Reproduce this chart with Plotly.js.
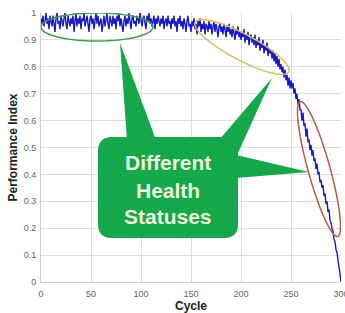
<!DOCTYPE html>
<html><head><meta charset="utf-8">
<script src="https://cdn.plot.ly/plotly-3.0.1.min.js"></script>
<style>html,body{margin:0;padding:0;background:#fff;}#c{width:345px;height:313px;}</style>
</head><body><div id="c"></div>
<script>
const cycles = Array.from({length:301}, (_, i) => i);
const performance = [
0.98,0.96,0.99,0.95,0.97,1.00,0.96,0.98,0.94,0.99,
0.97,0.95,0.99,0.96,0.93,0.98,1.00,0.96,0.97,0.94,
0.99,0.97,0.95,0.98,1.00,0.96,0.94,0.99,0.97,0.95,
0.98,0.96,0.99,0.93,0.97,1.00,0.95,0.98,0.96,0.99,
0.94,0.98,0.97,1.00,0.95,0.97,0.99,0.96,0.93,0.98,
0.99,0.96,0.98,0.94,0.97,1.00,0.96,0.99,0.95,0.97,
0.98,0.93,0.97,0.99,0.95,0.98,1.00,0.96,0.94,0.99,
0.97,0.95,0.99,0.96,0.98,0.94,0.99,0.97,1.00,0.95,
0.98,0.96,0.93,0.97,0.99,0.95,0.98,0.96,1.00,0.97,
0.94,0.98,0.99,0.96,0.97,0.95,0.99,0.98,0.96,1.00,
0.97,0.95,0.98,0.99,0.96,0.94,0.99,0.97,1.00,0.96,
0.98,0.95,0.97,0.99,0.94,0.98,0.96,0.99,0.97,0.95,
0.98,0.96,0.99,0.94,0.97,0.98,0.95,0.99,0.96,0.97,
0.94,0.98,0.96,0.99,0.95,0.97,0.93,0.98,0.96,0.99,
0.95,0.97,0.94,0.98,0.96,0.93,0.97,0.99,0.95,0.96,
0.93,0.97,0.95,0.98,0.94,0.96,0.92,0.97,0.95,0.98,
0.93,0.96,0.94,0.97,0.92,0.96,0.95,0.93,0.97,0.94,
0.96,0.92,0.95,0.97,0.93,0.96,0.94,0.91,0.95,0.96,
0.93,0.95,0.92,0.96,0.94,0.91,0.95,0.93,0.96,0.92,
0.94,0.91,0.95,0.93,0.90,0.94,0.92,0.95,0.91,0.93,
0.90,0.93,0.91,0.94,0.89,0.92,0.90,0.93,0.88,0.91,
0.92,0.89,0.91,0.88,0.92,0.87,0.90,0.88,0.91,0.86,
0.89,0.87,0.90,0.85,0.88,0.86,0.89,0.84,0.87,0.85,
0.86,0.83,0.86,0.82,0.85,0.81,0.84,0.80,0.83,0.79,
0.81,0.78,0.80,0.76,0.79,0.75,0.77,0.73,0.76,0.72,
0.75,0.72,0.74,0.70,0.72,0.68,0.70,0.66,0.68,0.64,
0.64,0.60,0.63,0.58,0.59,0.54,0.57,0.52,0.53,0.49,
0.51,0.47,0.49,0.45,0.46,0.42,0.44,0.40,0.41,0.37,
0.38,0.35,0.36,0.32,0.33,0.29,0.30,0.26,0.27,0.23,
0.22,0.20,0.19,0.16,0.15,0.12,0.11,0.08,0.06,0.03,0.00];
const xTicks = [0,50,100,150,200,250,300];
const yTicks = [0,0.1,0.2,0.3,0.4,0.5,0.6,0.7,0.8,0.9,1];
const calloutLines = ["Different","Health","Statuses"];

// layout geometry (pixels)
const ML=41, MT=13, PW=300, PH=269;
function toD(px,py){ return [(px-ML)*300/PW, (MT+PH-py)/PH]; }
function P(px,py){ const d=toD(px,py); return d[0].toFixed(3)+','+d[1].toFixed(5); }
function ellipse(cx,cy,rx,ry,ang){
  const a=ang*Math.PI/180; let s='';
  for(let i=0;i<=72;i++){
    const t=i/72*2*Math.PI;
    const x=cx+rx*Math.cos(t)*Math.cos(a)-ry*Math.sin(t)*Math.sin(a);
    const y=cy+rx*Math.cos(t)*Math.sin(a)+ry*Math.sin(t)*Math.cos(a);
    s+=(i?' L ':'M ')+P(x,y);
  }
  return s+' Z';
}
function rrect(x0,y0,x1,y1,r){
  return 'M '+P(x0+r,y0)+' L '+P(x1-r,y0)+' Q '+P(x1,y0)+' '+P(x1,y0+r)+
    ' L '+P(x1,y1-r)+' Q '+P(x1,y1)+' '+P(x1-r,y1)+
    ' L '+P(x0+r,y1)+' Q '+P(x0,y1)+' '+P(x0,y1-r)+
    ' L '+P(x0,y0+r)+' Q '+P(x0,y0)+' '+P(x0+r,y0)+' Z';
}
function tri(a,b,c){ return 'M '+P(a[0],a[1])+' L '+P(b[0],b[1])+' L '+P(c[0],c[1])+' Z'; }
const green='#14a84b';
const shapes=[
  {type:'path',xref:'x',yref:'y',path:ellipse(97,27,56,14,0),line:{color:'#3f9a50',width:1.5},layer:'above'},
  {type:'path',xref:'x',yref:'y',path:ellipse(242,47,53,13,28),line:{color:'#dcbb6c',width:1.5},layer:'above'},
  {type:'path',xref:'x',yref:'y',path:ellipse(319,169,70,11,74.5),line:{color:'#b9574f',width:1.5},layer:'above'},
  {type:'path',xref:'x',yref:'y',path:tri([127,140],[156,140],[120,43]),fillcolor:green,line:{width:0},layer:'above'},
  {type:'path',xref:'x',yref:'y',path:tri([219,140],[238,153],[272,78]),fillcolor:green,line:{width:0},layer:'above'},
  {type:'path',xref:'x',yref:'y',path:tri([236,155],[236,178],[309,172]),fillcolor:green,line:{width:0},layer:'above'},
  {type:'path',xref:'x',yref:'y',path:rrect(98,137,238,238,14),fillcolor:green,line:{width:0},layer:'above'}
];
const linesY=[162,190,216];
const annotations=calloutLines.map((t,i)=>{const d=toD(168,linesY[i]);return {
  x:d[0],y:d[1],xref:'x',yref:'y',text:'<b>'+t+'</b>',showarrow:false,xanchor:'center',yanchor:'middle',
  font:{family:'Liberation Sans, Arial, sans-serif',size:21,color:'#eef4da'}};});

Plotly.newPlot('c',[{
  x:cycles,y:performance,type:'scatter',mode:'lines',
  line:{color:'#1a1ac8',width:1.4},hoverinfo:'skip'
}],{
  width:345,height:313,
  margin:{l:ML,r:345-ML-PW,t:MT,b:313-MT-PH,pad:0},
  paper_bgcolor:'#fff',plot_bgcolor:'#fff',showlegend:false,
  font:{family:'Liberation Sans, Arial, sans-serif'},
  xaxis:{range:[0,300],tickvals:xTicks,ticktext:xTicks.map(String),showgrid:true,gridcolor:'#dedede',gridwidth:1,
    zeroline:false,showline:true,linecolor:'#cfcfcf',ticks:'',ticklabelstandoff:3,ticklabeloverflow:'allow',
    tickfont:{size:9,color:'#666'},
    title:{text:'<b>Cycle</b>',font:{size:12,color:'#222'},standoff:4},automargin:false},
  yaxis:{range:[0,1],tickvals:yTicks,ticktext:yTicks.map(String),showgrid:true,gridcolor:'#dedede',gridwidth:1,
    zeroline:false,showline:true,linecolor:'#cfcfcf',ticks:'',ticklabelstandoff:2,tickfont:{size:9,color:'#666'},
    title:{text:'<b>Performance Index</b>',font:{size:12,color:'#222'},standoff:3},automargin:false},
  shapes:shapes,annotations:annotations
},{staticPlot:true,displayModeBar:false});
</script></body></html>
